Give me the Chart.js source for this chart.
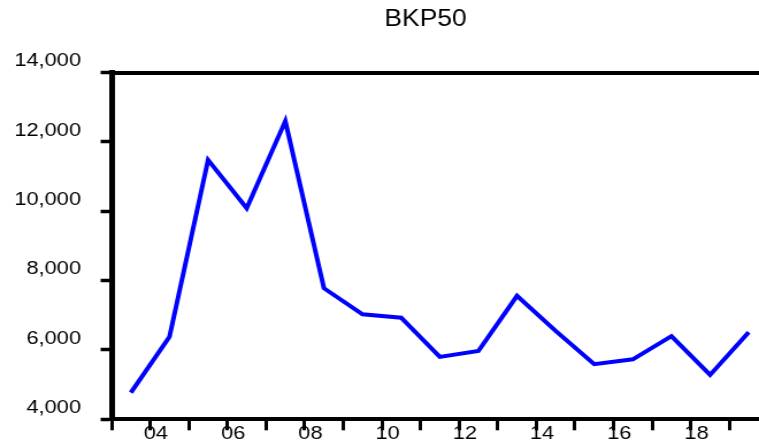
<!DOCTYPE html>
<html>
<head>
<meta charset="utf-8">
<script src="https://cdn.jsdelivr.net/npm/chart.js@4.4.0/dist/chart.umd.min.js"></script>
<style>
  html, body { margin: 0; padding: 0; background: #ffffff; overflow: hidden; width: 759px; height: 443px; }
  #wrap { position: absolute; left: 0; top: 0; transform: scaleX(1.15); transform-origin: 0 0; }
  canvas { display: block; }
</style>
</head>
<body>
<div id="wrap"><canvas id="c" width="740" height="443"></canvas></div>
<script>
// ---- data ----
const chartTitle = 'BKP50';
const years = [2003, 2004, 2005, 2006, 2007, 2008, 2009, 2010, 2011, 2012, 2013, 2014, 2015, 2016, 2017, 2018, 2019];
const bkp50 = [4770, 6380, 11480, 10090, 12600, 7780, 7030, 6930, 5800, 5970, 7560, 6550, 5590, 5730, 6400, 5280, 6510];
const xTickYears = [2003, 2004, 2005, 2006, 2007, 2008, 2009, 2010, 2011, 2012, 2013, 2014, 2015, 2016, 2017, 2018, 2019, 2020, 2021, 2022];
const xTickLabels = ['', '04', '', '06', '', '08', '', '10', '', '12', '', '14', '', '16', '', '18', '', '20', '', '22'];
const yTickValues = [4000, 6000, 8000, 10000, 12000, 14000];
const yTickLabels = ['4,000', '6,000', '8,000', '10,000', '12,000', '14,000'];

// annual observations sit at mid-year
const points = years.map((y, i) => ({ x: y + 0.5, y: bkp50[i] }));

const FONT = '"Liberation Sans", Arial, sans-serif';

new Chart(document.getElementById('c'), {
  type: 'line',
  data: {
    datasets: [{
      data: points,
      borderColor: '#0000ff',
      borderWidth: 4,
      pointRadius: 0,
      tension: 0,
      fill: false
    }]
  },
  options: {
    responsive: false,
    animation: false,
    locale: 'en-US',
    layout: { padding: 0 },
    plugins: {
      legend: { display: false },
      tooltip: { enabled: false },
      title: {
        display: true,
        text: chartTitle,
        color: '#000000',
        font: { family: FONT, size: 23, weight: 'normal', lineHeight: 1.2 },
        padding: { top: 6, bottom: 39 }
      }
    },
    scales: {
      x: {
        type: 'linear',
        position: 'bottom',
        min: 2003,
        max: 2022.15,
        afterBuildTicks: s => { s.ticks = xTickYears.map(v => ({ value: v })); },
        afterFit: s => { s.height = 23.7; s.paddingLeft = 0; s.paddingRight = 0; },
        grid: { drawOnChartArea: false, drawTicks: true, tickLength: 11, tickWidth: 3, tickColor: '#000000' },
        border: { display: true, color: '#000000', width: 4 },
        ticks: {
          autoSkip: false, maxRotation: 0, minRotation: 0, padding: -7.6, labelOffset: 5,
          color: '#000000', font: { family: FONT, size: 19 },
          callback: (v) => { const i = xTickYears.indexOf(v); return i >= 0 ? xTickLabels[i] : ''; }
        }
      },
      xTop: {
        type: 'linear', position: 'top', min: 2003, max: 2022.15,
        afterFit: s => { s.height = 0; s.paddingLeft = 0; s.paddingRight = 0; },
        grid: { drawOnChartArea: false, drawTicks: false },
        border: { display: true, color: '#000000', width: 4 },
        ticks: { display: false }
      },
      y: {
        type: 'linear', position: 'left', min: 4000, max: 14000,
        afterBuildTicks: s => { s.ticks = yTickValues.map(v => ({ value: v })); },
        afterFit: s => { s.width = 97; s.paddingTop = 0; s.paddingBottom = 0; },
        grid: { drawOnChartArea: false, drawTicks: true, tickLength: 9.5, tickWidth: 3.5, tickColor: '#000000' },
        border: { display: true, color: '#000000', width: 5 },
        ticks: {
          padding: 17, labelOffset: -11.5, color: '#000000', font: { family: FONT, size: 19 },
          callback: (v) => { const i = yTickValues.indexOf(v); return i >= 0 ? yTickLabels[i] : ''; }
        }
      }
    }
  }
});
</script>
</body>
</html>
